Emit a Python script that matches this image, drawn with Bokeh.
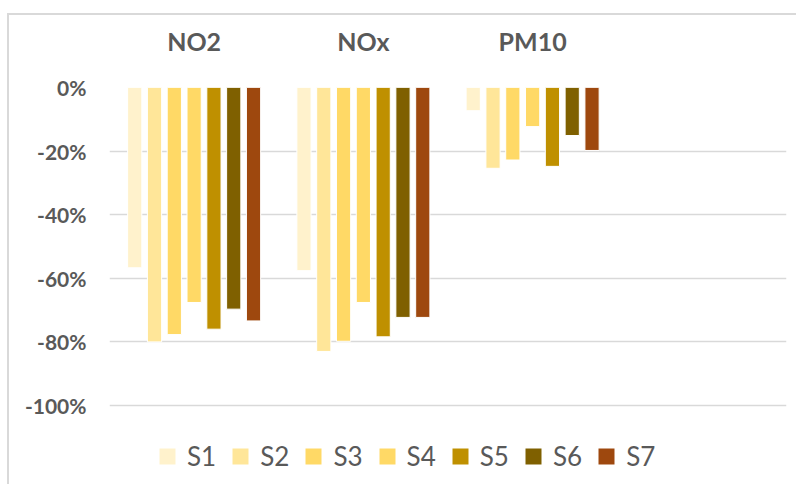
from bokeh.plotting import figure
from bokeh.layouts import column
from bokeh.models import ColumnDataSource, FactorRange, NumeralTickFormatter, Legend, LegendItem, FixedTicker
from bokeh.transform import dodge
from bokeh.embed import file_html
from bokeh.resources import INLINE

categories = ["NO2", "NOx", "PM10"]
axis_factors = categories + [" "]
series = ["S1", "S2", "S3", "S4", "S5", "S6", "S7"]
colors = ["#FFF2CC", "#FFE699", "#FFD966", "#FFD966", "#BF9000", "#7F6000", "#9E480E"]
S1 = [-0.567, -0.576, -0.073]
S2 = [-0.800, -0.830, -0.254]
S3 = [-0.777, -0.798, -0.228]
S4 = [-0.676, -0.676, -0.123]
S5 = [-0.760, -0.784, -0.248]
S6 = [-0.697, -0.723, -0.151]
S7 = [-0.734, -0.723, -0.198]
y_ticks = [0, -0.2, -0.4, -0.6, -0.8, -1.0]

data = {"cat": categories}
for name, vals in zip(series, [S1, S2, S3, S4, S5, S6, S7]):
    data[name] = vals
src = ColumnDataSource(data)

p = figure(x_range=FactorRange(*axis_factors, range_padding=0), y_range=(-1.2547, 0.0),
           width=789, height=471, output_backend="svg", toolbar_location=None,
           x_axis_location="above",
           min_border_left=100, min_border_right=12, min_border_top=72, min_border_bottom=0,
           styles={"border-left": "2px solid #d9d9d9", "border-top": "2px solid #d9d9d9"})
p.outline_line_color = None
p.xgrid.grid_line_color = None
p.ygrid.grid_line_color = "#d9d9d9"
p.ygrid.grid_line_width = 1.5

pitch = 0.117
items = []
for i, name in enumerate(series):
    p.vbar(x=dodge("cat", (i - 3) * pitch, range=p.x_range), top=0, bottom=name,
           width=0.084, source=src, fill_color=colors[i], line_color="white", line_width=1)
    # legend key only: a single marker placed above the visible y range
    key = p.scatter(x=[categories[0]], y=[1.0], marker="square", size=16,
                    fill_color=colors[i], line_color=None)
    items.append(LegendItem(label=name, renderers=[key]))

p.yaxis.ticker = FixedTicker(ticks=y_ticks)
p.yaxis.formatter = NumeralTickFormatter(format="0%")
p.yaxis.axis_line_color = None
p.yaxis.major_tick_line_color = None
p.yaxis.minor_tick_line_color = None
p.yaxis.major_label_text_font = "Lato"
p.yaxis.major_label_text_font_style = "bold"
p.yaxis.major_label_text_font_size = "21px"
p.yaxis.major_label_text_color = "#595959"
p.yaxis.major_label_standoff = 17

p.xaxis.axis_line_color = None
p.xaxis.major_tick_line_color = None
p.xaxis.major_label_text_font = "Lato"
p.xaxis.major_label_text_font_style = "bold"
p.xaxis.major_label_text_font_size = "25px"
p.xaxis.major_label_text_color = "#595959"
p.xaxis.major_label_standoff = 26

legend = Legend(items=items, orientation="horizontal", location=(38, 10),
                glyph_width=40, glyph_height=40, label_standoff=-3, spacing=4,
                label_text_font="Lato", label_text_font_size="26px", label_text_color="#595959",
                border_line_color=None, background_fill_alpha=0, padding=0, margin=0)
p.add_layout(legend, "center")

layout = column(p, styles={"padding-left": "7px", "padding-top": "13px"})

open("out.html", "w").write(file_html(layout, INLINE))
